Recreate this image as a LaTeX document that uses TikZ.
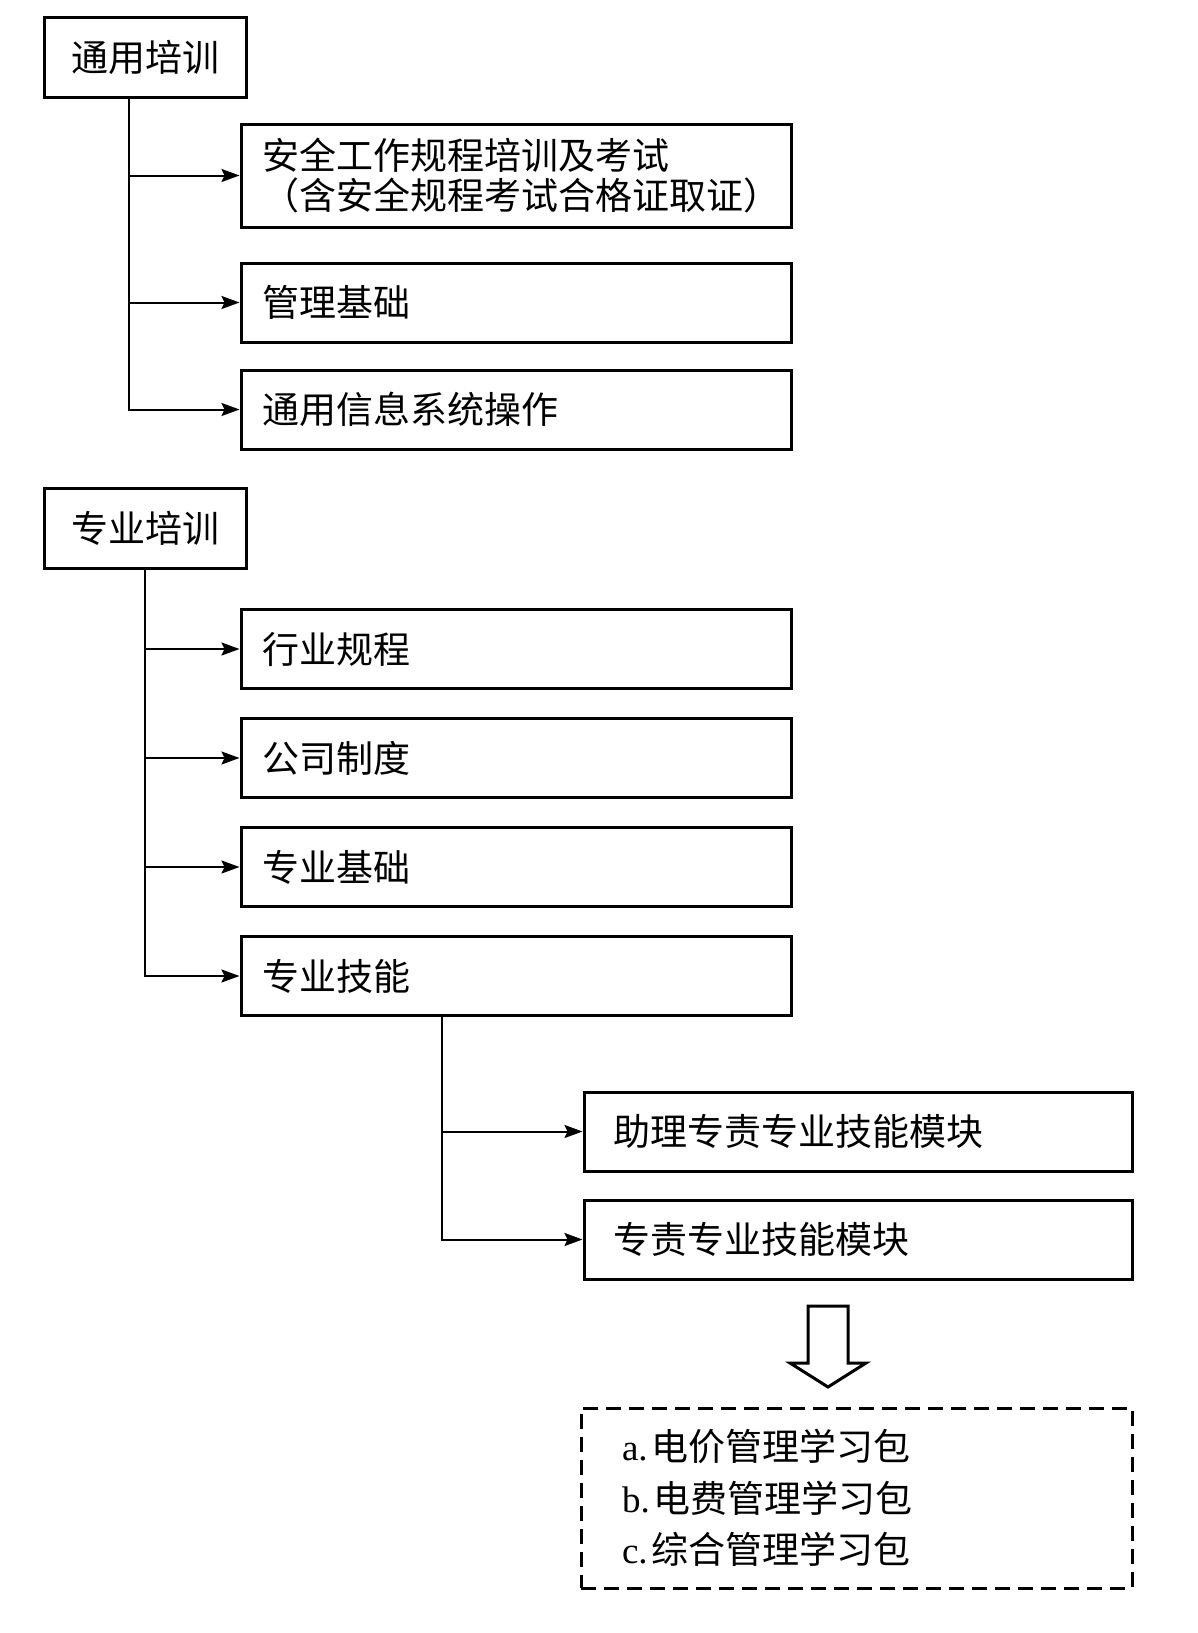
\documentclass[tikz,border=0pt]{standalone}
\usepackage{fontspec}
\setmainfont{Liberation Serif}
\newfontfamily\cjk{Noto Sans CJK SC}
\usetikzlibrary{arrows.meta,positioning}

\begin{document}
\begin{tikzpicture}[x=0.5pt,y=-0.5pt,on grid,
    font=\cjk\fontsize{18.5pt}{20pt}\selectfont,
    head/.style={draw,line width=1.5pt,minimum width=101pt,minimum height=40pt,inner sep=0pt},
    item/.style={draw,line width=1.5pt,minimum height=39.5pt,inner xsep=10.5pt,inner ysep=0pt,text width=254pt,align=left},
    module/.style={item,inner xsep=14.5pt,text width=245pt},
    pkg/.style={draw,dash pattern=on 7.5pt off 4pt,line width=1.5pt,minimum height=90pt,inner xsep=20.5pt,inner ysep=0pt,text width=234.5pt,align=left,font=\cjk\fontsize{18.5pt}{25.75pt}\selectfont},
    link/.style={line width=1pt,-{Stealth[length=9pt,width=6.5pt,inset=1.5pt]}}]
   \useasboundingbox (0,0) rectangle (1198,1633);
   \node[head] (gen) at (145,57) {通用培训};
   \node[item,minimum height=51.5pt] (safe) at (516,175.5) {安全工作规程培训及考试\\（含安全规程考试合格证取证）};
   \node[item] (base) [below=63.5pt of safe] {管理基础};
   \node[item] (sys) [below=53.5pt of base] {通用信息系统操作};
   \node[head] (spec) at (145,528) {专业培训};
   \node[item] (rule) at (516,649) {行业规程};
   \node[item] (corp) [below=54.5pt of rule] {公司制度};
   \node[item] (major) [below=54.5pt of corp] {专业基础};
   \node[item] (skill) [below=54.5pt of major] {专业技能};
   \node[module] (assist) at (858,1131.5) {助理专责专业技能模块};
   \node[module] (duty) [below=54pt of assist] {专责专业技能模块};
   \node[pkg] (pack) at (856.5,1498) {{\rmfamily a.}\hspace{2pt}电价管理学习包\\{\rmfamily b.}\hspace{2pt}电费管理学习包\\{\rmfamily c.}\hspace{2pt}综合管理学习包};
   \coordinate (t1) at ([xshift=-8pt]gen.south);
   \coordinate (t2) at (spec.south);
   \coordinate (t3) at ([xshift=-37pt]skill.south);
   \foreach \n in {safe,base,sys}
     \draw[link] (t1) |- (\n.west);
   \foreach \n in {rule,corp,major,skill}
     \draw[link] (t2) |- (\n.west);
   \foreach \n in {assist,duty}
     \draw[link] (t3) |- (\n.west);
   % hollow arrow down to the packages
   \draw[line width=1.5pt] (808,1306) -- (848,1306) -- (848,1363) -- (866,1363)
     -- (828,1387) -- (790,1363) -- (808,1363) -- cycle;
\end{tikzpicture}
\end{document}
